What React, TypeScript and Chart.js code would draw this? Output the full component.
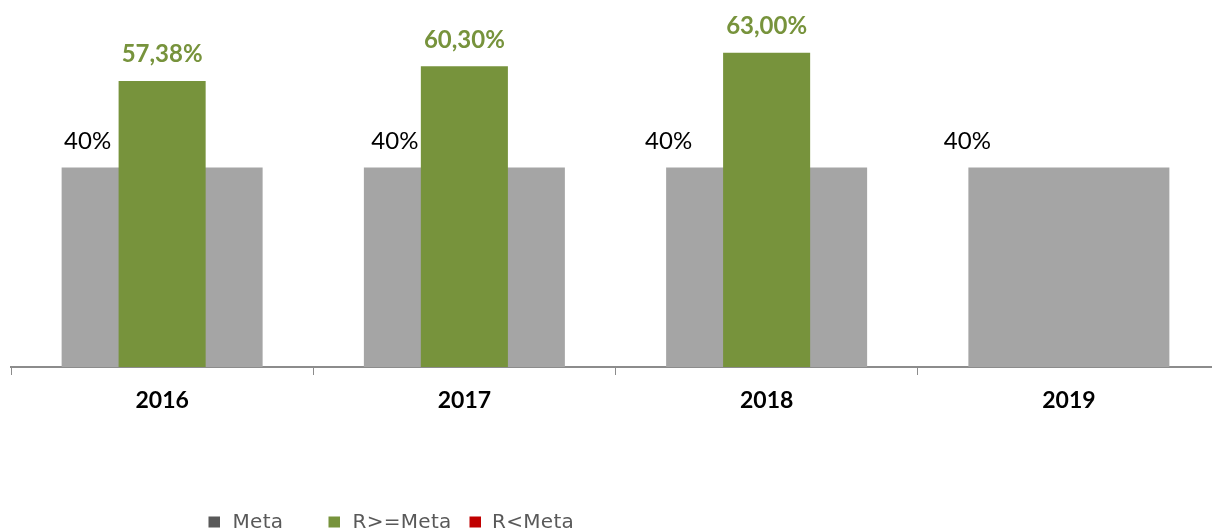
import React, { useEffect, useRef } from "react";
import { Chart, registerables } from "chart.js";

Chart.register(...registerables);

// ---- data ----
const categories = ["2016", "2017", "2018", "2019"];
const seriesLabels = ["Meta", "R>=Meta", "R<Meta"];
const metaValues: (number | null)[] = [40, 40, 40, 40];
const resultOkValues: (number | null)[] = [57.38, 60.3, 63.0, null];
const resultLowValues: (number | null)[] = [null, null, null, null];

// ---- styles ----
const COLORS = {
  meta: "#a5a5a5",
  metaLegend: "#595959",
  ok: "#77933c",
  low: "#c00000",
  axis: "#8c8c8c",
  legendText: "#595959",
};
const metaLabelDx = [26, 31, 2.5, -1]; // label centre offset from left edge of Meta bar
const legendX = [208.5, 328.5, 469.5];
const legendTextDx = [24, 24, 22.5];

const fmtOk = (v: number) => v.toFixed(2).replace(".", ",") + "%";

const labelsPlugin = {
  id: "barLabels",
  afterDatasetsDraw(chart: any) {
    const ctx = chart.ctx as CanvasRenderingContext2D;
    ctx.save();
    ctx.textBaseline = "alphabetic";
    ctx.textAlign = "center";

    const metaMeta = chart.getDatasetMeta(0);
    ctx.font = "24px Lato";
    ctx.fillStyle = "#000000";
    metaMeta.data.forEach((bar: any, i: number) => {
      const v = metaValues[i];
      if (v == null) return;
      const p = bar.getProps(["x", "y", "width"], true);
      const left = p.x - p.width / 2;
      ctx.fillText(`${v}%`, left + metaLabelDx[i], p.y - 18.5);
    });

    const okMeta = chart.getDatasetMeta(1);
    ctx.font = "bold 24px Lato";
    ctx.fillStyle = COLORS.ok;
    okMeta.data.forEach((bar: any, i: number) => {
      const v = resultOkValues[i];
      if (v == null) return;
      const p = bar.getProps(["x", "y"], true);
      ctx.fillText(fmtOk(v), p.x, p.y - 18.5);
    });

    // legend
    ctx.textAlign = "left";
    ctx.font = "20px 'DejaVu Sans'";
    try {
      (ctx as any).letterSpacing = "0.3px";
    } catch (e) {}
    const legendColors = [COLORS.metaLegend, COLORS.ok, COLORS.low];
    chart.data.datasets.forEach((ds: any, i: number) => {
      const x = legendX[i];
      ctx.fillStyle = legendColors[i];
      ctx.fillRect(x, 516.5, 11.5, 11);
      ctx.fillStyle = COLORS.legendText;
      ctx.fillText(ds.label, x + legendTextDx[i], 528);
    });
    ctx.restore();
  },
};

export default function App() {
  const canvasRef = useRef<HTMLCanvasElement | null>(null);

  useEffect(() => {
    document.body.style.overflow = "hidden";
    const canvas = canvasRef.current;
    if (!canvas) return;
    const chart = new Chart(canvas, {
      type: "bar",
      data: {
        labels: categories,
        datasets: [
          {
            label: seriesLabels[0],
            data: metaValues,
            backgroundColor: COLORS.meta,
            barPercentage: 0.665,
            categoryPercentage: 1,
            grouped: false,
            order: 3,
          } as any,
          {
            label: seriesLabels[1],
            data: resultOkValues,
            backgroundColor: COLORS.ok,
            barPercentage: 0.288,
            categoryPercentage: 1,
            grouped: false,
            order: 2,
          },
          {
            label: seriesLabels[2],
            data: resultLowValues,
            backgroundColor: COLORS.low,
            barPercentage: 0.288,
            categoryPercentage: 1,
            grouped: false,
            order: 1,
          },
        ],
      },
      options: {
        responsive: false,
        animation: false,
        devicePixelRatio: 1,
        layout: { padding: { left: 11, right: 1, top: 0, bottom: 103.4 } },
        plugins: {
          legend: { display: false },
          tooltip: { enabled: false },
        },
        scales: {
          x: {
            offset: true,
            grid: {
              offset: true,
              drawOnChartArea: false,
              drawTicks: true,
              tickLength: 8,
              color: COLORS.axis,
              lineWidth: 1,
            },
            border: { display: true, color: COLORS.axis, width: 2 },
            ticks: {
              color: "#000000",
              padding: 12,
              font: { family: "Lato", size: 23, weight: "bold" },
            },
          },
          y: { display: false, min: 0, max: 73.6 },
        },
      },
      plugins: [labelsPlugin],
    });
    return () => chart.destroy();
  }, []);

  return (
    <div style={{ position: "fixed", left: 0, top: 0, width: 1221, height: 530, background: "#fff" }}>
      <canvas ref={canvasRef} width={1221} height={530} style={{ display: "block" }} />
    </div>
  );
}
